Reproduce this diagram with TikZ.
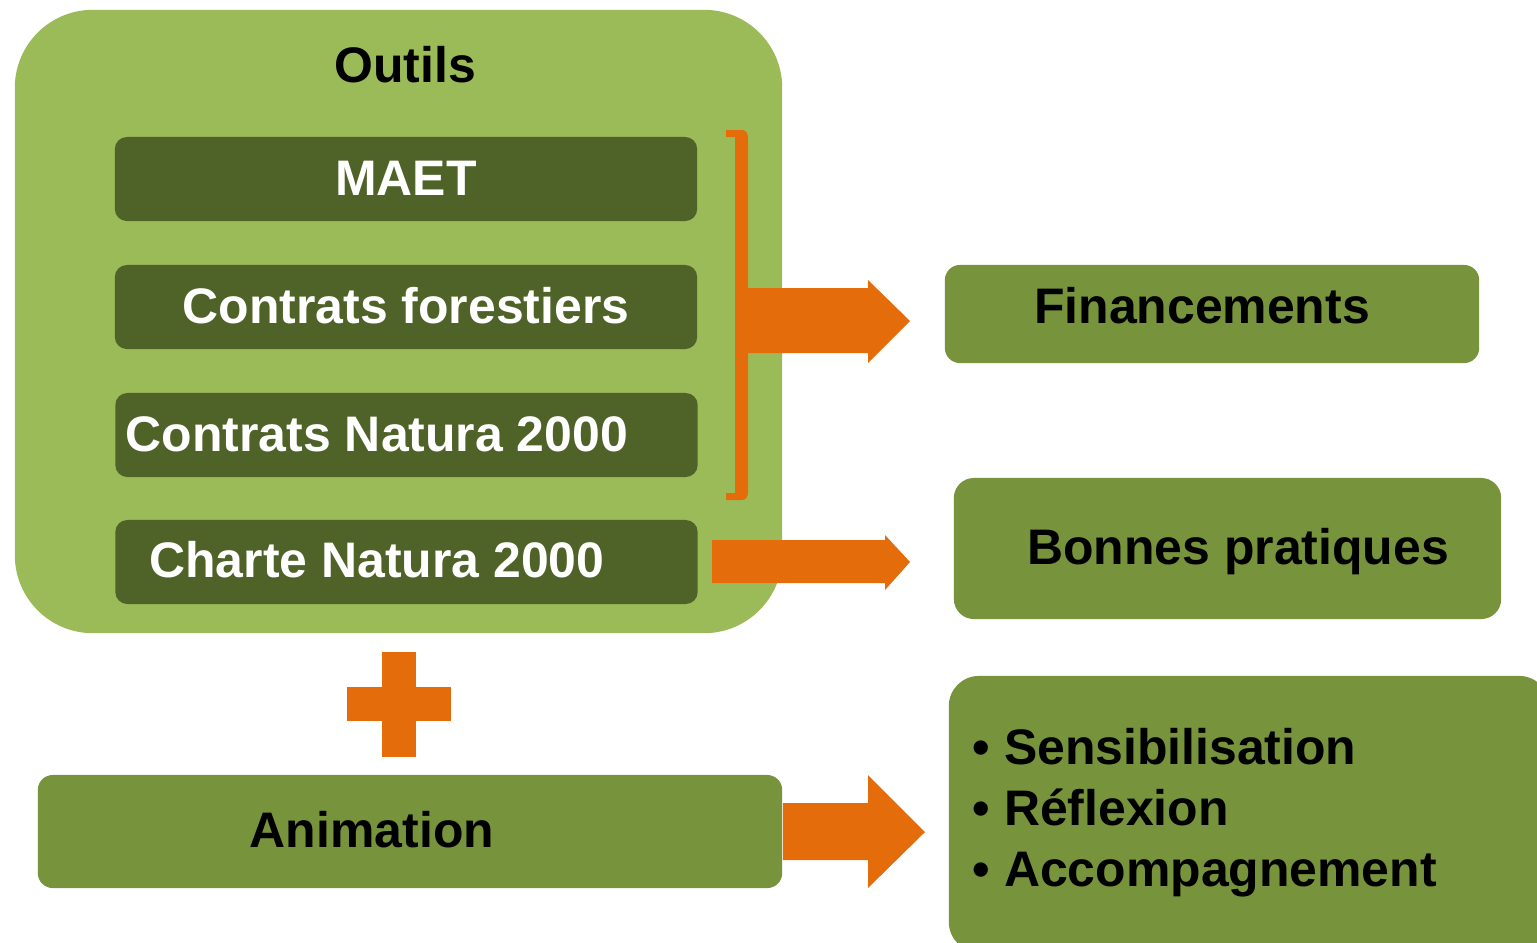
\documentclass[tikz,border=0pt]{standalone}
\usepackage{fontspec}
\setmainfont{Liberation Sans}
\definecolor{lightgreen}{HTML}{9BBB59}
\definecolor{darkgreen}{HTML}{4F6228}
\definecolor{midgreen}{HTML}{77933C}
\definecolor{orangec}{HTML}{E46C0A}
\begin{document}
\begin{tikzpicture}[x=0.01cm,y=-0.01cm,
  txt/.style={font=\fontsize{14.2pt}{17.3pt}\selectfont\bfseries, inner sep=0pt},
  outerbox/.style={fill=lightgreen, rounded corners=0.78cm, inner sep=0pt},
  darkbox/.style={fill=darkgreen, rounded corners=0.12cm, minimum width=5.82cm, minimum height=0.84cm, inner sep=0pt},
  midbox/.style={fill=midgreen, rounded corners=0.15cm, inner sep=0pt},
  wtxt/.style={txt, text=white},
  btxt/.style={txt, text=black},
  blockarrow/.style={fill=orangec}]
\useasboundingbox (0,0) rectangle (1537,942);
\begin{scope}
\clip (0,0) rectangle (1537,942);
% outer box
\node[outerbox, minimum width=7.67cm, minimum height=6.23cm] (outils) at (398.5,321.5) {};
\node[btxt] (outilslbl) at (405,65) {Outils};
% inner boxes
\node[darkbox] (maet) at (406,179) {};
\node[wtxt] (maetlbl) at (406,178) {MAET};
\node[darkbox] (forest) at (406,307) {};
\node[wtxt] (forestlbl) at (406,306) {Contrats forestiers};
\node[darkbox] (natura) at (406.5,435) {};
\node[wtxt] (naturalbl) at (377,434) {Contrats Natura 2000};
\node[darkbox] (charte) at (406.5,562) {};
\node[wtxt] (chartelbl) at (377,560) {Charte Natura 2000};
% right boxes
\node[midbox, minimum width=5.34cm, minimum height=0.98cm] (fin) at (1212,314) {};
\node[btxt] (finlbl) at (1202,306) {Financements};
\node[midbox, rounded corners=0.2cm, minimum width=5.47cm, minimum height=1.41cm] (bonnes) at (1227.5,548.5) {};
\node[btxt] (bonneslbl) at (1238,552) {Bonnes pratiques};
\node[midbox, rounded corners=0.3cm, minimum width=6.0cm, minimum height=2.76cm] (anim2) at (1249,814) {};
\node[btxt, align=left, anchor=west] (list) at (972,813) {• Sensibilisation\\• Réflexion\\• Accompagnement};
% animation
\node[midbox, minimum width=7.44cm, minimum height=1.13cm] (anim) at (410,831.5) {};
\node[btxt] (animlbl) at (372,830) {Animation};
% plus
\fill[orangec] (382,652) rectangle (416,757);
\fill[orangec] (347,687) rectangle (451,721);
% bracket
\fill[orangec] (726,130) -- (742,130) to[out=0,in=90] (748,137) -- (748,493) to[out=-90,in=0] (742,500) -- (726,500) -- (726,493) -- (735,493) -- (735,137) -- (726,137) -- cycle;
% arrows
\coordinate (a1s) at (748,288);
\fill[blockarrow] (a1s) -- (868,288) -- (868,280) -- (910,321) -- (868,363) -- (868,353) -- (748,353) -- cycle;
\fill[blockarrow] (712,540) -- (885,540) -- (885,535) -- (910,562) -- (885,590) -- (885,583) -- (712,583) -- cycle;
\fill[blockarrow] (anim.east |- 0,803) -- (868,803) -- (868,775) -- (925,832) -- (868,888) -- (868,860) -- (anim.east |- 0,860) -- cycle;
\end{scope}
\end{tikzpicture}
\end{document}
